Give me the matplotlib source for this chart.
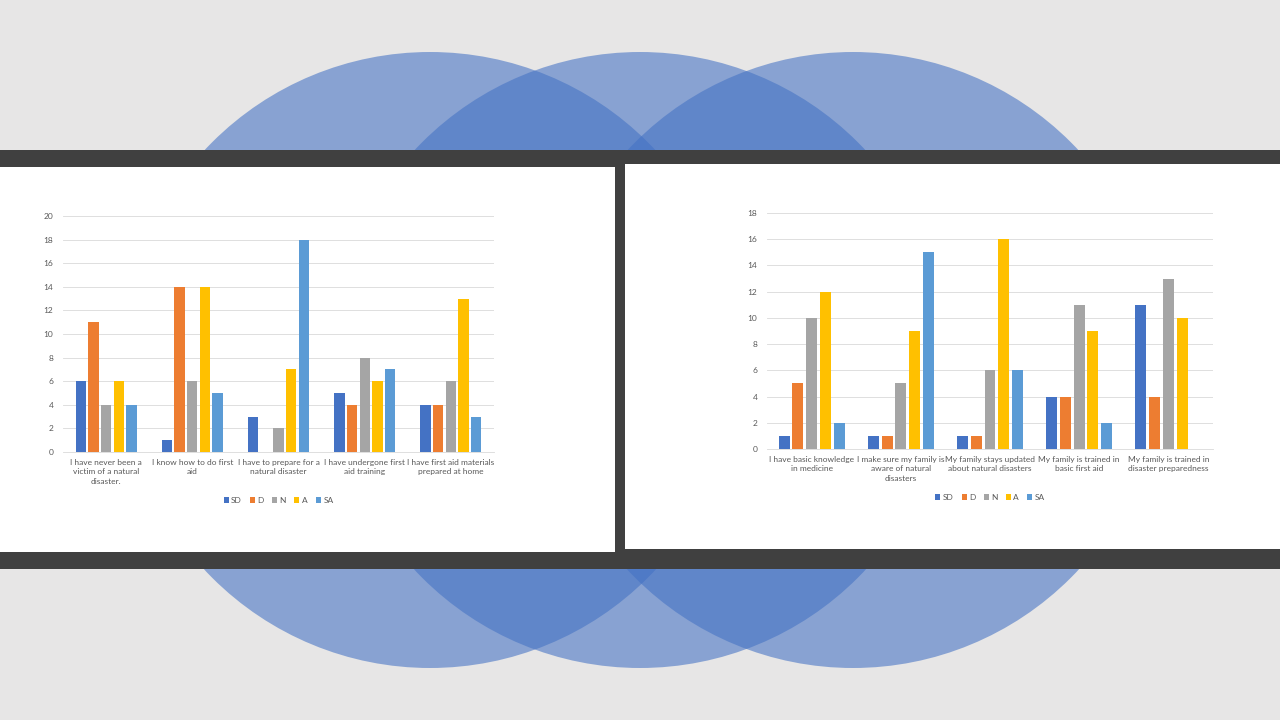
import matplotlib.pyplot as plt
import numpy as np
from matplotlib.patches import Circle, Rectangle

# survey answers, left slide chart
cats_left = ["I have never been a\nvictim of a natural\ndisaster.",
             "I know how to do first\naid",
             "I have to prepare for a\nnatural disaster",
             "I have undergone first\naid training",
             "I have first aid materials\nprepared at home"]
sd_left = [6, 1, 3, 5, 4]
d_left = [11, 14, 0, 4, 4]
n_left = [4, 6, 2, 8, 6]
a_left = [6, 14, 7, 6, 13]
sa_left = [4, 5, 18, 7, 3]

# right slide chart
cats_right = ["I have basic knowledge\nin medicine",
              "I make sure my family is\naware of natural\ndisasters",
              "My family stays updated\nabout natural disasters",
              "My family is trained in\nbasic first aid",
              "My family is trained in\ndisaster preparedness"]
sd_right = [1, 1, 1, 4, 11]
d_right = [5, 1, 1, 4, 4]
n_right = [10, 5, 6, 11, 13]
a_right = [12, 9, 16, 9, 10]
sa_right = [2, 15, 6, 2, 0]

series_names = ["SD", "D", "N", "A", "SA"]
colors = ["#4472c4", "#ed7d31", "#a5a5a5", "#ffc000", "#5b9bd5"]
txt = "#595959"
plt.rcParams['font.family'] = ['Lato', 'DejaVu Sans']

fig = plt.figure(figsize=(12.8, 7.2), dpi=100)
fig.patch.set_facecolor("#e7e6e6")

# slide background: circles, dark band, white panels
bg = fig.add_axes([0, 0, 1, 1])
bg.set_xlim(0, 1280)
bg.set_ylim(720, 0)
bg.axis("off")
for cx in (430, 640, 853):
    bg.add_patch(Circle((cx, 360), 308, facecolor="#4472c4", alpha=0.58, lw=0))
bg.add_patch(Rectangle((0, 150), 1280, 419, facecolor="#404040", lw=0))
bg.add_patch(Rectangle((0, 167), 615, 385, facecolor="white", lw=0))
bg.add_patch(Rectangle((625, 164), 655, 385, facecolor="white", lw=0))


def bar_chart(rect, cats, data, ymax, step, width, leg_y):
    ax = fig.add_axes(rect)
    ax.set_facecolor("none")
    x = np.arange(len(cats))
    for i, vals in enumerate(data):
        ax.bar(x + (i - 2) * step, vals, width, color=colors[i], label=series_names[i], zorder=3)
    ax.set_xlim(-0.5, len(cats) - 0.5)
    ax.set_ylim(0, ymax)
    ax.set_yticks(np.arange(0, ymax + 1, 2))
    ax.set_xticks(x)
    ax.set_xticklabels(cats, fontsize=6.0, color=txt, linespacing=1.4)
    ax.tick_params(axis="y", labelsize=6.0, colors=txt, length=0, pad=7)
    ax.tick_params(axis="x", length=0, pad=5)
    ax.grid(axis="y", color="#d9d9d9", lw=0.6, zorder=0)
    for s in ("top", "left", "right"):
        ax.spines[s].set_visible(False)
    ax.spines["bottom"].set_color("#d9d9d9")
    ax.spines["bottom"].set_linewidth(0.6)
    ax.legend(loc="center", bbox_to_anchor=(0.5, leg_y), ncol=5, frameon=False,
              fontsize=6.0, labelcolor=txt, handlelength=0.6, handleheight=0.6,
              handletextpad=0.3, columnspacing=1.0)
    return ax


bar_chart([63 / 1280, 1 - 452 / 720, 431 / 1280, 236 / 720], cats_left,
          [sd_left, d_left, n_left, a_left, sa_left], 20, 0.147, 0.12, -0.205)
bar_chart([767 / 1280, 1 - 449 / 720, 446 / 1280, 236 / 720], cats_right,
          [sd_right, d_right, n_right, a_right, sa_right], 18, 0.154, 0.123, -0.205)

plt.savefig("out.png", dpi=100, facecolor=fig.get_facecolor())
